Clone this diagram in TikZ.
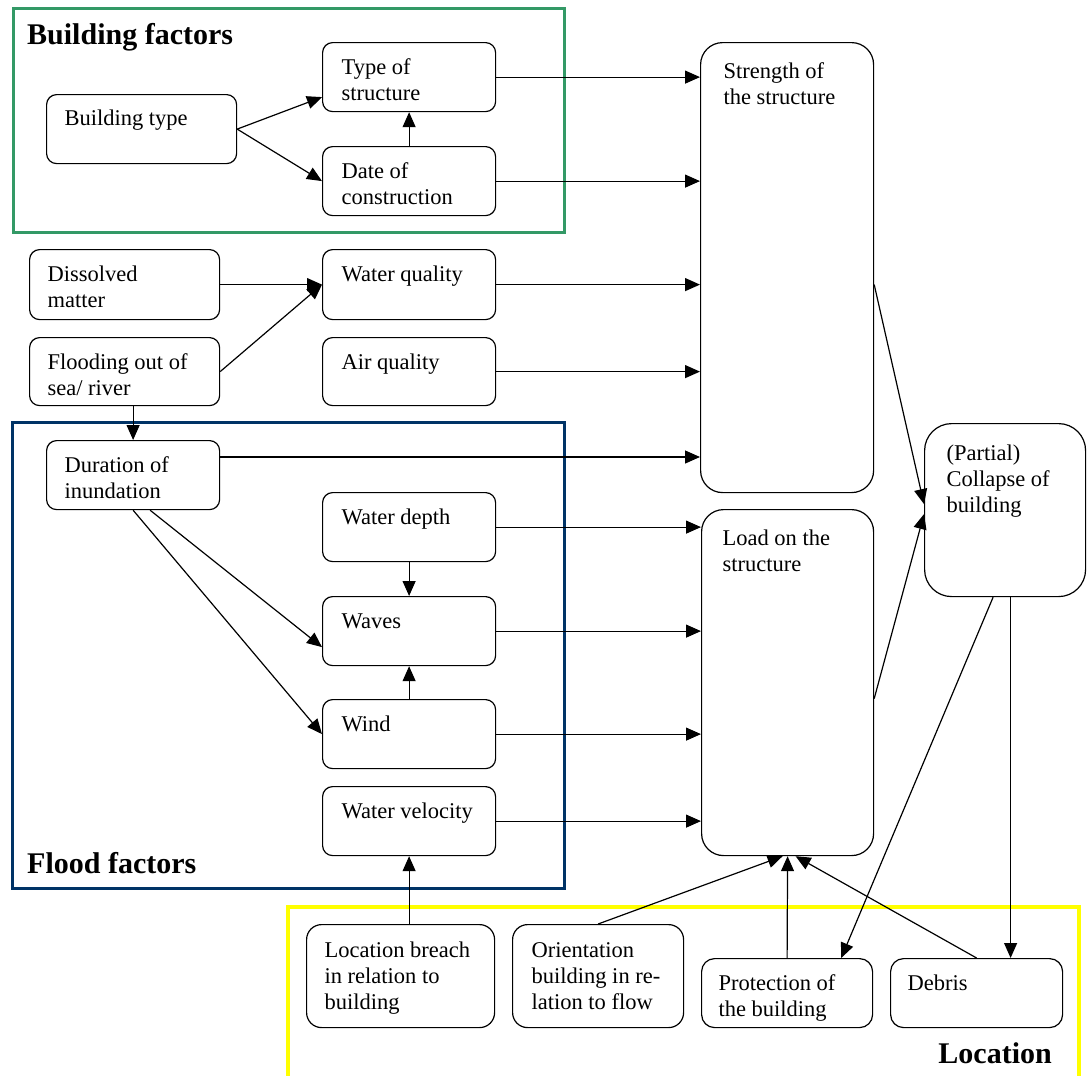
\documentclass[tikz,border=0pt]{standalone}
\usepackage{fontspec}
\setmainfont{Liberation Serif}
\usetikzlibrary{arrows.meta}
\definecolor{gframe}{HTML}{339966}
\definecolor{bframe}{HTML}{003366}
\definecolor{yframe}{HTML}{FFFF00}
\newcommand\cellbox[5]{\parbox[c][#2pt][t]{#1pt}{\raggedright\leftskip=#3pt\relax\rule{0pt}{#4pt}#5\par}}
\tikzset{
  box/.style={draw, fill=white, line width=1.2pt, rounded corners=10pt, inner sep=0pt, anchor=north west,
    font=\fontsize{22.5}{25.8}\selectfont},
  bigbox/.style={box, rounded corners=22pt},
  head/.style={font=\bfseries\fontsize{30}{36}\selectfont, inner sep=0pt},
  arr/.style={-{Triangle[length=15pt,width=13pt]}, line width=1.2pt},
}
\begin{document}
\begin{tikzpicture}[x=1pt,y=-1pt]
\useasboundingbox (0,0) rectangle (1087,1076);
% frames
\draw[gframe, line width=3pt] (13,8) rectangle (564,232);
\draw[bframe, line width=3pt] (12,422) rectangle (564,888);
\draw[yframe, line width=4pt] (288,1085) -- (288,907) -- (1079,907) -- (1079,1085);
% headings
\node[head, anchor=base west] (hb) at (27,44) {Building factors};
\node[head, anchor=base west] (hf) at (27,873) {Flood factors};
\node[head, anchor=base east] (hl) at (1052,1063) {Location};
% boxes
\node[box] (bt) at (46,94) {\cellbox{190}{69}{18}{31}{Building type}};
\node[box] (tos) at (322,42) {\cellbox{173}{69}{19}{32}{Type of\\structure}};
\node[box] (doc) at (322,146) {\cellbox{173}{69}{19}{32}{Date of\\construction}};
\node[box] (dm) at (29,249) {\cellbox{190}{70}{18}{32}{Dissolved\\matter}};
\node[box] (fl) at (29,337) {\cellbox{190}{68}{18}{32}{Flooding out of\\sea/ river}};
\node[box] (wq) at (322,249) {\cellbox{173}{70}{19}{32}{Water quality}};
\node[box] (aq) at (322,337) {\cellbox{173}{68}{19}{32}{Air quality}};
\node[box] (dur) at (46,440) {\cellbox{173}{69}{18}{32}{Duration of\\inundation}};
\node[box] (wd) at (322,492) {\cellbox{173}{69}{19}{32}{Water depth}};
\node[box] (wv) at (322,596) {\cellbox{173}{69}{19}{32}{Waves}};
\node[box] (wi) at (322,699) {\cellbox{173}{69}{19}{32}{Wind}};
\node[box] (vel) at (322,786) {\cellbox{173}{69}{19}{32}{Water velocity}};
\node[bigbox] (str) at (700,42) {\cellbox{173}{450}{23}{36}{Strength of\\the structure}};
\node[bigbox] (load) at (701,509) {\cellbox{172}{346}{21}{36}{Load on the\\structure}};
\node[box, rounded corners=27pt] (col) at (924,423) {\cellbox{161}{173}{22}{37}{(Partial)\\Collapse of\\building}};
\node[box, rounded corners=15pt] (lb) at (306,924) {\cellbox{188}{103}{18}{33}{Location breach\\in relation to\\building}};
\node[box, rounded corners=15pt] (ori) at (512,924) {\cellbox{171}{103}{19}{33}{Orientation\\building in re-\\lation to flow}};
\node[box, rounded corners=13pt] (pro) at (701,958) {\cellbox{171}{69}{17}{32}{Protection of\\the building}};
\node[box, rounded corners=13pt] (deb) at (890,958) {\cellbox{172}{69}{17}{32}{Debris}};
% helper coordinates
\coordinate (durout) at ([yshift=-17pt]dur.north east);
\coordinate (c2) at ([xshift=5.5pt]col.south);
% connectors: building factors
\draw[arr] (bt.east) -- ([yshift=-20pt]tos.west);
\draw[arr] (bt.east) -- (doc.west);
\draw[arr] (doc.north) -- (tos.south);
\draw[arr] (tos.east) -- (str.west |- tos.east);
\draw[arr] (doc.east) -- (str.west |- doc.east);
% water / air
\draw[arr] (dm.east) -- (wq.west);
\draw[arr] (fl.east) -- (wq.west);
\draw[arr] (wq.east) -- (str.west |- wq.east);
\draw[arr] (aq.east) -- (str.west |- aq.east);
\draw[arr] (dur.north |- fl.south) -- (dur.north);
\draw[arr] (durout) -- (str.west |- durout);
% flood factors
\draw[arr] ([xshift=17pt]dur.south) -- ([yshift=-16pt]wv.west);
\draw[arr] (dur.south) -- (wi.west);
\draw[arr] (wd.south) -- (wv.north);
\draw[arr] (wi.north) -- (wv.south);
\draw[arr] (wd.east) -- (load.west |- wd.east);
\draw[arr] (wv.east) -- (load.west |- wv.east);
\draw[arr] (wi.east) -- (load.west |- wi.east);
\draw[arr] (vel.east) -- (load.west |- vel.east);
\draw[arr] (vel.south |- lb.north) -- (vel.south);
% to collapse
\draw[arr] (str.east |- wq.east) -- ([yshift=6pt]col.west);
\draw[arr] ([yshift=-16pt]load.east) -- ([yshift=-4pt]col.west);
% location
\draw[arr] (ori.north) -- ([xshift=-5pt]load.south);
\draw[arr] (pro.north) -- (load.south);
\draw[arr] (deb.north) -- ([xshift=8pt]load.south);
\draw[arr] ([xshift=-12pt]col.south) -- ([xshift=-32pt]pro.north east);
\draw[arr] (c2) -- (c2 |- deb.north);
\end{tikzpicture}
\end{document}
